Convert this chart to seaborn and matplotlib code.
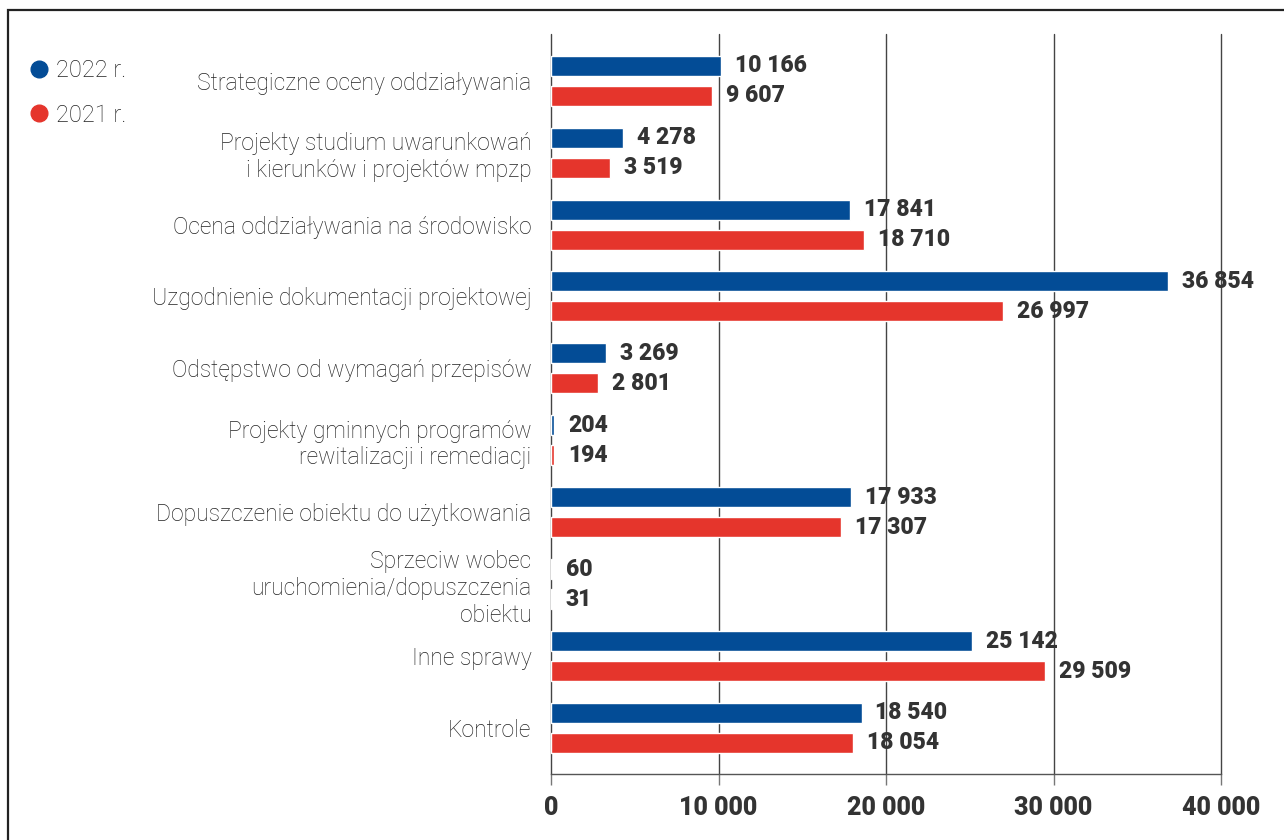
import pandas as pd
import matplotlib.pyplot as plt
import seaborn as sns
from matplotlib.lines import Line2D
from matplotlib.patches import Rectangle

# data
categories = [
    "Strategiczne oceny oddziaływania",
    "Projekty studium uwarunkowań\ni kierunków i projektów mpzp",
    "Ocena oddziaływania na środowisko",
    "Uzgodnienie dokumentacji projektowej",
    "Odstępstwo od wymagań przepisów",
    "Projekty gminnych programów\nrewitalizacji i remediacji",
    "Dopuszczenie obiektu do użytkowania",
    "Sprzeciw wobec\nuruchomienia/dopuszczenia\nobiektu",
    "Inne sprawy",
    "Kontrole",
]
years = ["2022 r.", "2021 r."]
v2022 = [10166, 4278, 17841, 36854, 3269, 204, 17933, 60, 25142, 18540]
v2021 = [9607, 3519, 18710, 26997, 2801, 194, 17307, 31, 29509, 18054]
xticks = [0, 10000, 20000, 30000, 40000]

blue = "#034c96"
red = "#e5352c"
dark = "#333333"

df = pd.DataFrame({
    "kategoria": categories * 2,
    "rok": [years[0]] * len(categories) + [years[1]] * len(categories),
    "wartosc": v2022 + v2021,
})

def fmt(v):
    return f"{v:,}".replace(",", " ")

sns.set_theme(style="white")
plt.rcParams['font.family'] = ['Roboto', 'DejaVu Sans']

fig = plt.figure(figsize=(12.84, 8.4), dpi=100)
ax = fig.add_axes([551 / 1284, 1 - 774 / 840, 670 / 1284, 740 / 840])

sns.barplot(data=df, y="kategoria", x="wartosc", hue="rok", orient="h",
            palette=[blue, red], width=0.834, gap=0.333, ax=ax, legend=False,
            saturation=1)

# value labels
for cont in ax.containers:
    for bar in cont:
        w = bar.get_width()
        ax.annotate(fmt(int(round(w))), (w, bar.get_y() + bar.get_height() / 2),
                    xytext=(10, 0), textcoords="offset points",
                    ha="left", va="center", fontsize=16.5, fontweight="heavy",
                    color=dark)

ax.set_xlim(0, 40000)
ax.set_ylim(9.64, -0.65)
ax.set_xticks(xticks)
ax.set_xticklabels([fmt(t) for t in xticks], fontsize=18, fontweight="heavy", color=dark)
ax.tick_params(axis="x", length=8, width=1, color="#777777", pad=8, bottom=True)
ax.tick_params(axis="y", length=0, pad=14)
for lab in ax.get_yticklabels():
    lab.set_fontsize(16.5)
    lab.set_fontweight("light")
    lab.set_color("#222222")
    lab.set_multialignment("right")
ax.set_xlabel("")
ax.set_ylabel("")

# vertical grid lines
for t in xticks:
    ax.axvline(t, color="#444444", lw=1, zorder=0, clip_on=False)

for s in ["top", "right"]:
    ax.spines[s].set_visible(False)
ax.spines["left"].set_visible(False)
ax.spines["bottom"].set_color("#555555")
ax.spines["bottom"].set_linewidth(1)

# legend
handles = [Line2D([], [], marker="o", ls="", color=blue, markersize=12),
           Line2D([], [], marker="o", ls="", color=red, markersize=12)]
leg = fig.legend(handles, years, loc="upper left", bbox_to_anchor=(4 / 1284, 1 - 38 / 840),
                 frameon=False, fontsize=17, labelcolor="#222222", handletextpad=0.1,
                 labelspacing=0.9, handlelength=1.2)
for t in leg.get_texts():
    t.set_fontweight("light")

# frame around the chart
fig.patches.append(Rectangle((8 / 1284, -0.1), 1.2, 1.1 - 10 / 840,
                             transform=fig.transFigure, fill=False,
                             edgecolor="#222222", lw=1.6, clip_on=False))

fig.savefig("out.png", dpi=100)
